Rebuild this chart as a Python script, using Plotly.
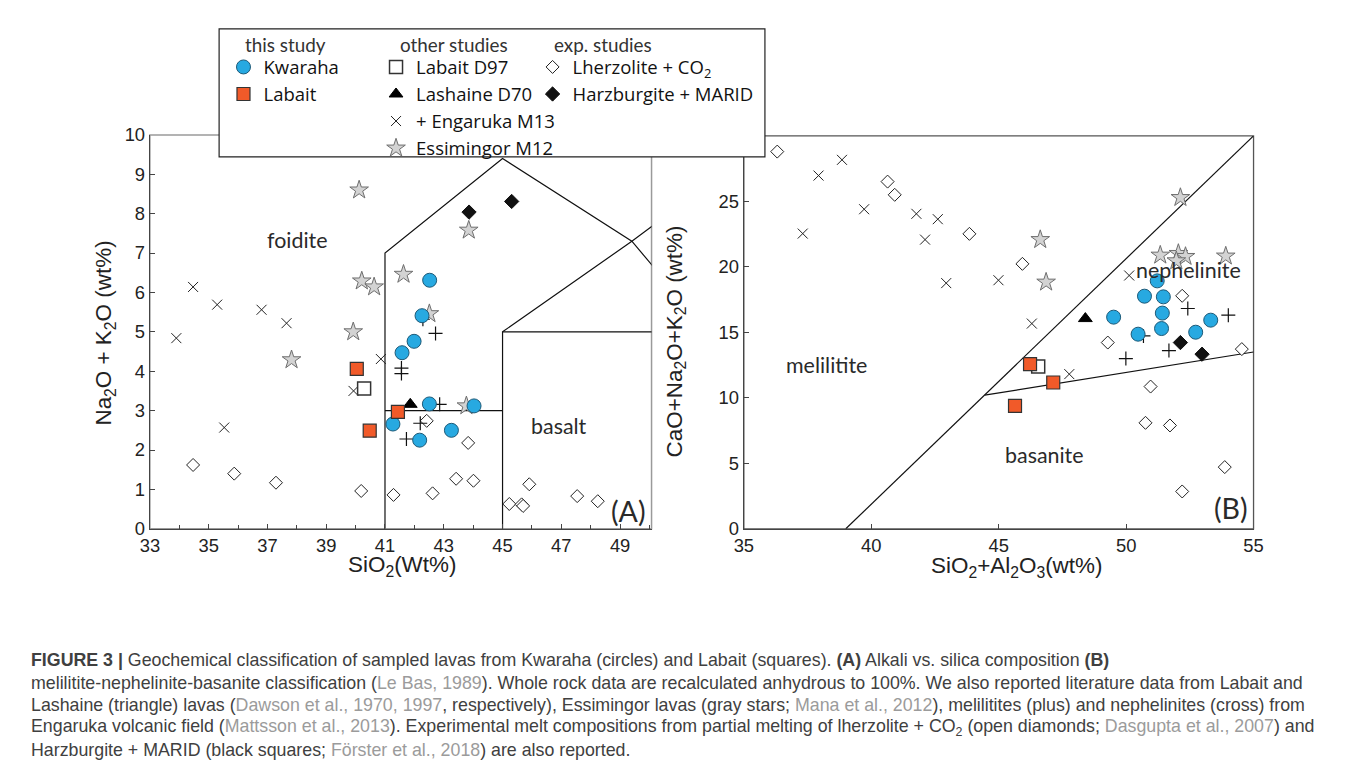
import plotly.graph_objects as go

# ---------------- Panel A : SiO2 vs Na2O+K2O ----------------
a_kwa_x = [42.52, 42.26, 41.99, 41.58, 42.51, 44.03, 41.27, 43.26, 42.18]
a_kwa_y = [6.31, 5.41, 4.76, 4.47, 3.17, 3.12, 2.66, 2.50, 2.25]
a_lab_x = [40.04, 41.44, 40.48]
a_lab_y = [4.06, 2.97, 2.49]
a_d97_x = [40.29]
a_d97_y = [3.56]
a_d70_x = [41.86]
a_d70_y = [3.16]
a_nep_x = [34.47, 35.29, 36.80, 37.65, 33.90, 40.86, 39.93, 35.53]
a_nep_y = [6.14, 5.69, 5.56, 5.22, 4.84, 4.31, 3.50, 2.57]
a_mel_x = [42.29, 42.72, 41.56, 41.56, 42.86, 42.20, 41.73]
a_mel_y = [5.32, 4.96, 4.08, 3.94, 3.16, 2.68, 2.28]
a_ess_x = [40.12, 40.21, 40.63, 39.92, 37.82, 43.85, 41.63, 42.51, 43.77]
a_ess_y = [8.60, 6.29, 6.14, 5.00, 4.29, 7.58, 6.46, 5.46, 3.12]
a_lhz_x = [34.47, 35.87, 37.29, 40.19, 41.29, 42.62, 43.42, 44.01, 45.23, 45.65,
           45.70, 45.91, 47.54, 48.24, 43.83, 42.42]
a_lhz_y = [1.62, 1.40, 1.17, 0.96, 0.86, 0.90, 1.27, 1.22, 0.63, 0.62,
           0.58, 1.13, 0.83, 0.70, 2.18, 2.74]
a_hzm_x = [43.86, 45.31]
a_hzm_y = [8.04, 8.31]

# TAS boundaries (panel A)
tas_b1_x = [41, 41, 45, 49.4, 52]
tas_b1_y = [0, 7, 9.4, 7.3, 5]
tas_b2_x = [41, 45]
tas_b2_y = [3, 3]
tas_b3_x = [45, 45, 52]
tas_b3_y = [0, 5, 5]
tas_b4_x = [45, 49.4, 53]
tas_b4_y = [5, 7.3, 9.3]

# ---------------- Panel B : SiO2+Al2O3 vs CaO+Na2O+K2O ----------------
b_kwa_x = [51.22, 50.72, 51.46, 51.42, 51.39, 49.51, 50.47, 52.73, 53.32]
b_kwa_y = [18.93, 17.76, 17.71, 16.47, 15.29, 16.16, 14.86, 15.01, 15.93]
b_lab_x = [46.23, 47.14, 45.64]
b_lab_y = [12.57, 11.17, 9.39]
b_d97_x = [46.55]
b_d97_y = [12.39]
b_d70_x = [48.40]
b_d70_y = [16.05]
b_nep_x = [37.31, 37.93, 38.85, 39.72, 41.77, 42.11, 42.61, 42.94, 44.99, 46.30, 50.12, 47.77]
b_nep_y = [22.54, 26.97, 28.17, 24.40, 24.05, 22.08, 23.64, 18.76, 18.98, 15.67, 19.34, 11.81]
b_mel_x = [52.42, 54.01, 50.68, 51.68, 49.99]
b_mel_y = [16.82, 16.31, 14.73, 13.61, 13.00]
b_ess_x = [52.13, 46.63, 46.86, 51.34, 52.05, 52.33, 51.97, 53.91]
b_ess_y = [25.29, 22.08, 18.83, 20.89, 21.02, 20.79, 20.46, 20.82]
b_lhz_x = [36.31, 40.64, 40.92, 43.85, 45.93, 49.28, 52.20, 54.54, 50.96, 50.76, 51.72, 53.87, 52.20]
b_lhz_y = [28.80, 26.51, 25.50, 22.52, 20.23, 14.22, 17.79, 13.72, 10.86, 8.09, 7.89, 4.71, 2.85]
b_hzm_x = [52.13, 52.98]
b_hzm_y = [14.22, 13.33]

lb_b1_x = [39, 55]
lb_b1_y = [0, 30]
lb_b2_x = [44.45, 55]
lb_b2_y = [10.2, 13.5]

# ---------------- page geometry ----------------
W, H = 1358, 771
# observed mapping from figure pixels to the photographed picture
SX, AX, SY, AY, M = 0.982, 12.7, 0.973, 10.3, 8
FS = 1.02  # font compensation


def fx(r):
    return (r - AX) / SX - M


def fy(r):
    return (r - AY) / SY - M


def px(r):
    return fx(r) / W


def py(r):
    return 1 - fy(r) / H


def f(s):
    return round(s * FS, 2)


BLUE = "#27a9e1"
RED = "#f15a29"
STAR = "#d3d3d3"
LEG_FONT = dict(family="Open Sans", size=18.5, color="#111")

fig = go.Figure()

for xs, ys, xa, ya in [
    (tas_b1_x, tas_b1_y, "x", "y"), (tas_b2_x, tas_b2_y, "x", "y"),
    (tas_b3_x, tas_b3_y, "x", "y"), (tas_b4_x, tas_b4_y, "x", "y"),
    (lb_b1_x, lb_b1_y, "x2", "y2"), (lb_b2_x, lb_b2_y, "x2", "y2"),
]:
    fig.add_trace(go.Scatter(x=xs, y=ys, xaxis=xa, yaxis=ya, mode="lines",
                             line=dict(color="#111", width=1.2),
                             showlegend=False, hoverinfo="skip"))

series = [
    ("lhz", "Lherzolite + CO<sub>2</sub>", "legend3", a_lhz_x, a_lhz_y, b_lhz_x, b_lhz_y,
     dict(symbol="diamond", size=10, color="white", line=dict(color="#222", width=1))),
    ("nep", "+ Engaruka M13", "legend2", a_nep_x, a_nep_y, b_nep_x, b_nep_y,
     dict(symbol="x-thin", size=10, color="#222", line=dict(color="#222", width=1))),
    ("mel", "Engaruka M13 (+)", "legend2", a_mel_x, a_mel_y, b_mel_x, b_mel_y,
     dict(symbol="cross-thin", size=10, color="#111", line=dict(color="#111", width=1.2))),
    ("ess", "Essimingor M12", "legend2", a_ess_x, a_ess_y, b_ess_x, b_ess_y,
     dict(symbol="star", size=14, color=STAR, line=dict(color="#6e6e6e", width=1))),
    ("hzm", "Harzburgite + MARID", "legend3", a_hzm_x, a_hzm_y, b_hzm_x, b_hzm_y,
     dict(symbol="diamond", size=11, color="#111", line=dict(color="#111", width=1))),
    ("d70", "Lashaine D70", "legend2", a_d70_x, a_d70_y, b_d70_x, b_d70_y,
     dict(symbol="triangle-up", size=12, color="#000", line=dict(color="#000", width=1))),
    ("d97", "Labait D97", "legend2", a_d97_x, a_d97_y, b_d97_x, b_d97_y,
     dict(symbol="square", size=13, color="white", line=dict(color="#333", width=1.5))),
    ("kwa", "Kwaraha", "legend", a_kwa_x, a_kwa_y, b_kwa_x, b_kwa_y,
     dict(symbol="circle", size=14, color=BLUE, line=dict(color="#1d5a78", width=1))),
    ("lab", "Labait", "legend", a_lab_x, a_lab_y, b_lab_x, b_lab_y,
     dict(symbol="square", size=13, color=RED, line=dict(color="#333", width=1.2))),
]

legend_rank = {"kwa": 1, "lab": 2, "d97": 3, "d70": 4, "nep": 5, "ess": 6, "lhz": 7, "hzm": 8}

for key, name, leg, ax, ay, bx, by, mk in series:
    show = key != "mel"
    fig.add_trace(go.Scatter(x=ax, y=ay, xaxis="x", yaxis="y", mode="markers",
                             name=name, legend=leg, marker=mk, showlegend=show,
                             legendrank=legend_rank.get(key, 99)))
    fig.add_trace(go.Scatter(x=bx, y=by, xaxis="x2", yaxis="y2", mode="markers",
                             name=name, legend=leg, marker=mk, showlegend=False))

TICKFONT = dict(family="Liberation Sans", size=f(18), color="#222")
axis_common = dict(showgrid=False, zeroline=False, showline=True, linecolor="#444",
                   linewidth=1.3, ticks="inside", ticklen=5, tickcolor="#444",
                   tickfont=TICKFONT, fixedrange=True)

LEG_TOP = fy(66) - 19
fig.update_layout(
    width=W, height=H, margin=dict(l=0, r=0, t=0, b=0),
    paper_bgcolor="white", plot_bgcolor="white",
    xaxis=dict(domain=[px(152), px(652)], range=[33, 50.07], anchor="y",
               tick0=33, dtick=2,
               minor=dict(ticks="inside", dtick=1, ticklen=4, tickcolor="#444"),
               **axis_common),
    yaxis=dict(domain=[py(528), py(134)], range=[0, 10], anchor="x",
               dtick=1, **axis_common),
    xaxis2=dict(domain=[px(744), px(1252)], range=[35, 55], anchor="y2",
                dtick=5, **axis_common),
    yaxis2=dict(domain=[py(528), py(135)], range=[0, 30], anchor="x2",
                dtick=5, **axis_common),
    legend=dict(x=fx(245) / W - 20 / W, y=1 - LEG_TOP / H, xanchor="left", yanchor="top",
                bgcolor="rgba(0,0,0,0)", font=LEG_FONT, itemwidth=30,
                traceorder="normal"),
    legend2=dict(x=fx(399) / W - 22 / W, y=1 - LEG_TOP / H, xanchor="left", yanchor="top",
                 bgcolor="rgba(0,0,0,0)", font=LEG_FONT, itemwidth=30,
                 traceorder="normal"),
    legend3=dict(x=fx(556) / W - 23 / W, y=1 - LEG_TOP / H, xanchor="left", yanchor="top",
                 bgcolor="rgba(0,0,0,0)", font=LEG_FONT, itemwidth=30,
                 traceorder="normal"),
)

shapes = [
    dict(type="rect", xref="x domain", yref="y domain", x0=0, x1=1, y0=0, y1=1,
         line=dict(color="#9a9a9a", width=1.5), layer="below"),
    dict(type="rect", xref="x2 domain", yref="y2 domain", x0=0, x1=1, y0=0, y1=1,
         line=dict(color="#555", width=1.3), layer="below"),
    dict(type="rect", xref="paper", yref="paper", x0=px(221), x1=px(765),
         y0=py(156), y1=py(28), line=dict(color="#222", width=1.2),
         fillcolor="white", layer="above"),
]
fig.update_layout(shapes=shapes)

ann = []
REG = dict(family="Lato", size=f(21), color="#2a2a2a")
for txt, x, y, xr, yr in [("foidite", 38.0, 7.33, "x", "y"), ("basalt", 46.93, 2.61, "x", "y"),
                          ("melilitite", 38.23, 12.5, "x2", "y2"),
                          ("nephelinite", 52.43, 19.75, "x2", "y2"),
                          ("basanite", 46.81, 5.65, "x2", "y2")]:
    ann.append(dict(text=txt, x=x, y=y, xref=xr, yref=yr, showarrow=False, font=REG,
                    xanchor="center", yanchor="middle"))
ann.append(dict(text="(A)", x=49.3, y=0.46, xref="x", yref="y", showarrow=False,
                xanchor="center", yanchor="middle",
                font=dict(family="Lato", size=f(28), color="#2a2a2a")))
ann.append(dict(text="(B)", x=54.13, y=1.6, xref="x2", yref="y2", showarrow=False,
                xanchor="center", yanchor="middle",
                font=dict(family="Lato", size=f(28), color="#2a2a2a")))

HDR = dict(family="Lato", size=f(18.5), color="#333")
for txt, x in [("this study", 244.5), ("other studies", 399.5), ("exp. studies", 553)]:
    ann.append(dict(text=txt, x=px(x), y=py(44), xref="paper", yref="paper",
                    xanchor="left", yanchor="middle", showarrow=False, font=HDR))

TT = dict(family="Liberation Sans", size=f(22), color="#222")
for txt, x, y, ang in [
    ("SiO<sub>2</sub>(Wt%)", 403, 565, 0),
    ("SiO<sub>2</sub>+Al<sub>2</sub>O<sub>3</sub>(wt%)", 1016, 566, 0),
    ("Na<sub>2</sub>O + K<sub>2</sub>O (wt%)", 107, 332, -90),
    ("CaO+Na<sub>2</sub>O+K<sub>2</sub>O (wt%)", 676, 341, -90),
]:
    ann.append(dict(text=txt, x=px(x), y=py(y), xref="paper", yref="paper",
                    xanchor="center", yanchor="middle", showarrow=False,
                    textangle=ang, font=TT))

G = "<span style='color:#9b9b9b'>%s</span>"
cap_lines = [
    "<b>FIGURE 3 |</b> Geochemical classification of sampled lavas from Kwaraha (circles) and Labait (squares). <b>(A)</b> Alkali vs. silica composition <b>(B)</b>",
    "melilitite-nephelinite-basanite classification (" + G % "Le Bas, 1989" + "). Whole rock data are recalculated anhydrous to 100%. We also reported literature data from Labait and",
    "Lashaine (triangle) lavas (" + G % "Dawson et al., 1970, 1997" + ", respectively), Essimingor lavas (gray stars; " + G % "Mana et al., 2012" + "), melilitites (plus) and nephelinites (cross) from",
    "Engaruka volcanic field (" + G % "Mattsson et al., 2013" + "). Experimental melt compositions from partial melting of lherzolite + CO<sub>2</sub> (open diamonds; " + G % "Dasgupta et al., 2007" + ") and",
    "Harzburgite + MARID (black squares; " + G % "Förster et al., 2018" + ") are also reported.",
]
cap_y = [659.5, 682, 704.5, 727, 749.5]
CAP = dict(family="Liberation Sans", size=17.8, color="#404040")
for t, y in zip(cap_lines, cap_y):
    ann.append(dict(text=t, x=px(32), y=py(y), xref="paper", yref="paper",
                    xanchor="left", yanchor="middle", showarrow=False, font=CAP))

fig.update_layout(annotations=ann)

fig.write_html("out.html")
